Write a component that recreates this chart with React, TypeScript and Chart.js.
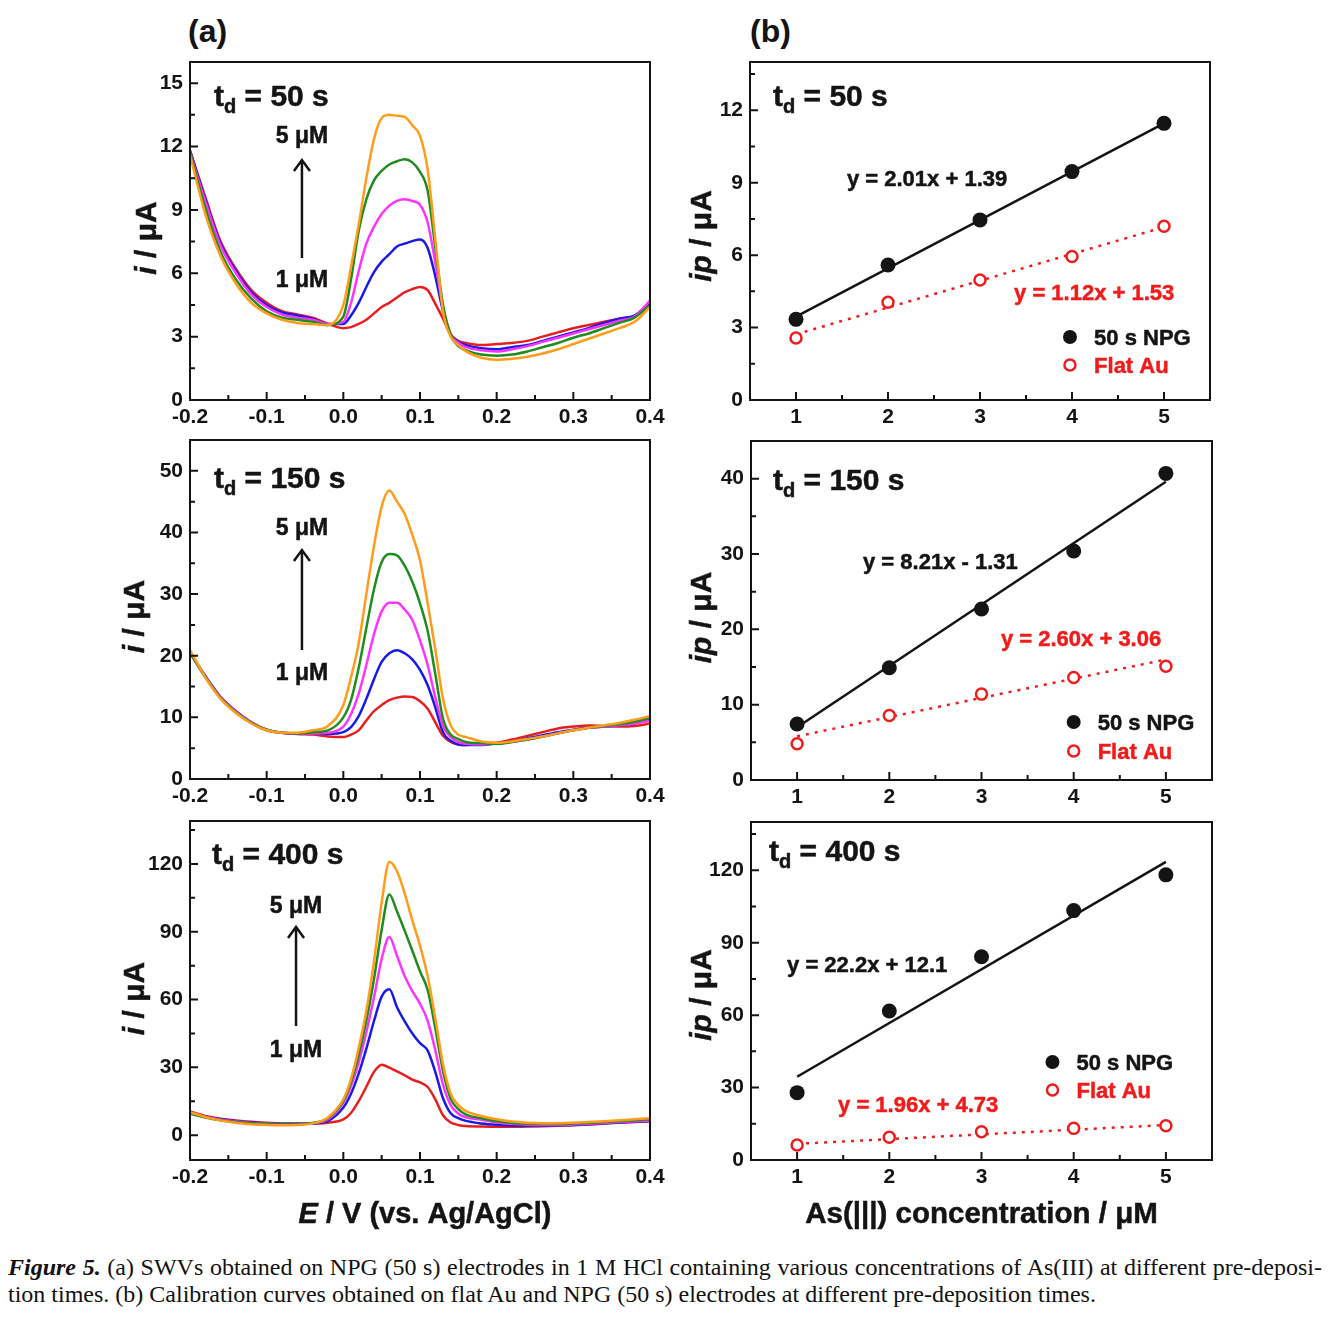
import React, { useEffect, useRef } from "react";
import { Chart, registerables } from "chart.js";

Chart.register(...registerables);

const FONT = '"Liberation Sans", Arial, Helvetica, sans-serif';
const INK = "#141414";
const RED = "#f01c1c";

// ---------------- (a) square-wave voltammograms ----------------
const POTENTIAL_V = [
  -0.2, -0.18, -0.16, -0.14, -0.12, -0.1, -0.08, -0.06, -0.04, -0.02,
  0, 0.01, 0.02, 0.03, 0.04, 0.05, 0.06, 0.07, 0.08, 0.09, 0.1, 0.11, 0.12, 0.13, 0.14, 0.15, 0.16,
  0.18, 0.2, 0.22, 0.24, 0.26, 0.28, 0.3, 0.32, 0.34, 0.36, 0.38, 0.4,
];
const CONC_LABELS = ["1 μM", "2 μM", "3 μM", "4 μM", "5 μM"];
const CURVE_COLORS = ["#e81e1e", "#1a1ae6", "#ff33ff", "#1e8c1e", "#ff9c1c"];

// t_d = 50 s
const I50_1UM = [11.8, 9.6, 7.5, 6.2, 5.2, 4.6, 4.2, 4.05, 3.9, 3.6,
  3.4, 3.45, 3.6, 3.8, 4.1, 4.4, 4.6, 4.85, 5.1, 5.25, 5.35, 5.2, 4.55, 3.85, 3.1, 2.8, 2.7,
  2.6, 2.65, 2.7, 2.8, 3.0, 3.2, 3.4, 3.55, 3.7, 3.85, 4.0, 4.6];
const I50_2UM = [11.8, 9.5, 7.4, 6.1, 5.1, 4.5, 4.15, 4.0, 3.85, 3.6,
  3.6, 4.0, 4.6, 5.35, 6.05, 6.55, 6.9, 7.27, 7.4, 7.52, 7.6, 7.2, 5.85, 4.2, 3.1, 2.75, 2.6,
  2.45, 2.4, 2.5, 2.6, 2.8, 3.0, 3.2, 3.4, 3.65, 3.85, 4.0, 4.6];
const I50_3UM = [11.7, 9.4, 7.3, 6.0, 5.0, 4.4, 4.05, 3.9, 3.8, 3.6,
  3.7, 4.6, 6.1, 7.4, 8.2, 8.8, 9.2, 9.43, 9.5, 9.42, 9.24, 8.4, 6.5, 4.4, 3.1, 2.7, 2.5,
  2.35, 2.3, 2.4, 2.55, 2.75, 2.95, 3.15, 3.35, 3.55, 3.75, 3.95, 4.7];
const I50_4UM = [11.7, 9.1, 7.0, 5.7, 4.8, 4.2, 3.9, 3.8, 3.7, 3.55,
  3.95, 5.7, 8.0, 9.5, 10.4, 10.85, 11.15, 11.3, 11.4, 11.25, 10.8, 9.9, 7.2, 4.5, 3.1, 2.55, 2.35,
  2.15, 2.1, 2.15, 2.3, 2.5, 2.7, 2.95, 3.15, 3.4, 3.65, 3.9, 4.5];
const I50_5UM = [11.6, 8.8, 6.8, 5.5, 4.6, 4.1, 3.8, 3.65, 3.6, 3.55,
  4.5, 6.3, 8.3, 10.5, 12.35, 13.35, 13.5, 13.45, 13.4, 13.0, 12.5, 10.9, 7.6, 4.2, 3.0, 2.6, 2.3,
  2.0, 1.9, 1.95, 2.05, 2.2, 2.4, 2.65, 2.9, 3.15, 3.4, 3.7, 4.4];

// t_d = 150 s
const I150_1UM = [20.5, 16.6, 13.2, 10.9, 9.1, 7.9, 7.5, 7.3, 7.2, 6.9,
  6.8, 7.2, 7.9, 9.5, 11.0, 12.0, 12.8, 13.2, 13.4, 13.3, 12.6, 11.4, 9.2, 7.0, 6.0, 5.6, 5.5,
  5.8, 5.9, 6.4, 7.0, 7.6, 8.2, 8.5, 8.7, 8.6, 8.5, 8.6, 9.0];
const I150_2UM = [20.5, 16.7, 13.3, 11.0, 9.2, 8.0, 7.5, 7.4, 7.4, 7.3,
  7.6, 8.4, 10.2, 13.0, 16.2, 19.0, 20.4, 20.9, 20.4, 19.4, 17.7, 15.2, 11.6, 7.6, 6.2, 5.6, 5.5,
  5.5, 5.8, 6.1, 6.6, 7.1, 7.6, 8.0, 8.3, 8.5, 8.7, 9.0, 9.6];
const I150_3UM = [20.5, 16.6, 13.2, 10.9, 9.2, 8.0, 7.5, 7.4, 7.4, 7.5,
  8.5, 10.5, 13.8, 18.5, 23.5, 27.2, 28.6, 28.6, 27.5, 25.8, 22.5, 18.5, 13.2, 8.6, 6.8, 6.0, 5.7,
  5.6, 5.8, 6.0, 6.4, 6.9, 7.4, 7.9, 8.3, 8.5, 8.7, 9.0, 9.5];
const I150_4UM = [20.5, 16.5, 13.1, 10.8, 9.1, 8.0, 7.5, 7.4, 7.6, 7.9,
  10.0, 12.8, 18.0, 24.5, 30.8, 35.2, 36.5, 36.3, 34.6, 32.0, 28.5, 24.0, 17.0, 9.8, 7.2, 6.5, 6.0,
  5.8, 5.7, 6.0, 6.4, 6.9, 7.4, 7.9, 8.3, 8.6, 8.9, 9.3, 9.9];
const I150_5UM = [20.9, 16.5, 13.0, 10.7, 9.0, 7.9, 7.5, 7.5, 7.9, 8.6,
  12.0, 16.5, 22.0, 30.0, 37.8, 44.2, 46.8, 45.0, 43.0, 39.6, 35.5, 28.5, 21.0, 13.0, 8.7, 7.2, 6.8,
  6.1, 5.9, 6.1, 6.5, 6.9, 7.4, 7.9, 8.3, 8.7, 9.1, 9.6, 10.2];

// t_d = 400 s
const I400_1UM = [10.5, 8.5, 7.3, 6.5, 5.9, 5.5, 5.2, 5.1, 5.1, 5.5,
  7.0, 9.8, 15.0, 21.4, 28.0, 31.2, 29.9, 28.2, 26.5, 24.6, 23.3, 21.3, 15.8, 8.8, 5.6, 4.5, 4.0,
  3.8, 3.7, 3.7, 3.8, 3.9, 4.1, 4.4, 4.7, 5.1, 5.5, 5.8, 6.2];
const I400_2UM = [10.0, 8.2, 7.0, 6.2, 5.6, 5.2, 5.0, 5.0, 5.2, 6.3,
  12.2, 18.3, 27.2, 38.3, 50.5, 61.3, 64.5, 56.6, 50.3, 45.0, 40.7, 37.4, 27.9, 16.3, 9.7, 7.5, 6.3,
  5.2, 4.6, 4.3, 4.2, 4.2, 4.3, 4.5, 4.8, 5.2, 5.6, 5.9, 6.3];
const I400_3UM = [9.8, 8.0, 6.8, 6.0, 5.4, 5.1, 4.9, 5.0, 5.3, 7.0,
  14.4, 21.7, 32.1, 45.5, 61.0, 78.0, 87.7, 79.4, 70.4, 63.7, 58.2, 50.6, 37.5, 22.4, 13.3, 9.5, 7.9,
  6.8, 5.6, 5.0, 4.6, 4.5, 4.5, 4.7, 5.0, 5.4, 5.8, 6.1, 6.5];
const I400_4UM = [9.5, 7.8, 6.6, 5.8, 5.3, 5.0, 4.8, 4.9, 5.4, 7.5,
  15.1, 23.5, 35.5, 50.6, 69.1, 90.9, 106.5, 99.0, 90.5, 81.6, 72.5, 64.2, 47.2, 28.4, 16.1, 11.5, 9.1,
  7.5, 6.2, 5.4, 5.0, 4.9, 4.9, 5.1, 5.4, 5.8, 6.2, 6.6, 7.0];
const I400_5UM = [10.2, 8.0, 6.5, 5.5, 4.8, 4.5, 4.4, 4.5, 5.2, 7.8,
  15.8, 24.8, 38.5, 55.0, 76.9, 102.9, 121.0, 116.8, 107.0, 95.0, 83.8, 70.3, 51.6, 31.4, 18.3, 13.3, 10.6,
  8.5, 7.0, 6.0, 5.5, 5.3, 5.3, 5.5, 5.8, 6.2, 6.6, 7.0, 7.5];

const E_TICKS = [-0.2, -0.1, 0, 0.1, 0.2, 0.3, 0.4];
const E_MINOR = [-0.15, -0.05, 0.05, 0.15, 0.25, 0.35];
const A50_Y_TICKS = [0, 3, 6, 9, 12, 15];
const A50_Y_MINOR = [1.5, 4.5, 7.5, 10.5, 13.5];
const A150_Y_TICKS = [0, 10, 20, 30, 40, 50];
const A150_Y_MINOR = [5, 15, 25, 35, 45];
const A400_Y_TICKS = [0, 30, 60, 90, 120];
const A400_Y_MINOR = [15, 45, 75, 105, 135];

// ---------------- (b) calibration curves ----------------
const CONC_UM = [1, 2, 3, 4, 5];
const NPG_50S = [3.34, 5.59, 7.46, 9.46, 11.46];
const FLAT_50S = [2.57, 4.05, 4.97, 5.94, 7.2];
const NPG_150S = [7.43, 14.9, 22.7, 30.4, 40.7];
const FLAT_150S = [4.8, 8.55, 11.4, 13.6, 15.1];
const NPG_400S = [27.9, 61.7, 84.2, 103.3, 118.1];
const FLAT_400S = [6.2, 9.4, 11.7, 13.1, 14.2];
const FIT_X = [1, 5];
const FIT_NPG_50S = [3.45, 11.46];
const FIT_FLAT_50S = [2.72, 7.16];
const FIT_NPG_150S = [7.0, 39.6];
const FIT_FLAT_150S = [5.8, 16.0];
const FIT_NPG_400S = [34.5, 123.5];
const FIT_FLAT_400S = [6.7, 14.5];
const LEGEND_LABELS = ["50 s NPG", "Flat Au"];
const C_TICKS = [1, 2, 3, 4, 5];
const C_MINOR = [1.5, 2.5, 3.5, 4.5];
const B50_Y_TICKS = [0, 3, 6, 9, 12];
const B50_Y_MINOR = [1.5, 4.5, 7.5, 10.5, 13.5];
const B150_Y_TICKS = [0, 10, 20, 30, 40];
const B150_Y_MINOR = [5, 15, 25, 35];
const B400_Y_TICKS = [0, 30, 60, 90, 120];
const B400_Y_MINOR = [15, 45, 75, 105, 135];

// ---------------- rich text helper ----------------
type Part = { t: string; size: number; italic?: boolean; dy?: number };
const fontOf = (p: Part) => `${p.italic ? "italic " : ""}bold ${p.size}px ${FONT}`;

function drawRich(ctx: CanvasRenderingContext2D, parts: Part[], x: number, yc: number, align: string, color: string) {
  const widths = parts.map((p) => {
    ctx.font = fontOf(p);
    return ctx.measureText(p.t).width;
  });
  const total = widths.reduce((s, w) => s + w, 0);
  let cx = align === "center" ? x - total / 2 : x;
  const baseline = yc + parts[0].size * 0.36;
  ctx.fillStyle = color;
  ctx.strokeStyle = color;
  ctx.lineWidth = 0.5;
  ctx.textAlign = "left";
  ctx.textBaseline = "alphabetic";
  parts.forEach((p, i) => {
    ctx.font = fontOf(p);
    ctx.fillText(p.t, cx, baseline + (p.dy || 0));
    ctx.strokeText(p.t, cx, baseline + (p.dy || 0));
    cx += widths[i];
  });
}

const tdParts = (n: string): Part[] => [
  { t: "t", size: 30 },
  { t: "d", size: 20, dy: 7 },
  { t: ` = ${n} s`, size: 30 },
];
const I_TITLE: Part[] = [{ t: "i", size: 30, italic: true }, { t: " / μA", size: 30 }];
const IP_TITLE: Part[] = [{ t: "ip", size: 30, italic: true }, { t: " / μA", size: 30 }];

// ---------------- panel layout ----------------
const PANELS: any[] = [
  {
    key: "a50", kind: "swv", left: 100, top: 45, w: 580, h: 385, yAxisW: 90, padTop: 17, padRight: 30, xAxisH: 30,
    xMin: -0.2, xMax: 0.4, yMin: 0, yMax: 16, xTicks: E_TICKS, xMinor: E_MINOR, yTicks: A50_Y_TICKS, yMinor: A50_Y_MINOR,
    series: [I50_1UM, I50_2UM, I50_3UM, I50_4UM, I50_5UM], td: "50", tdPos: [-0.1687, 14.44],
    arrowX: -0.054, hiY: 12.54, loY: 5.73, arrowFrom: 6.72, arrowTo: 11.36,
    yTitle: I_TITLE, yTitleDx: -45, yTitleDy: 7,
  },
  {
    key: "b50", kind: "cal", left: 680, top: 45, w: 560, h: 385, yAxisW: 70, padTop: 17, padRight: 30, xAxisH: 30,
    xMin: 0.5, xMax: 5.5, yMin: 0, yMax: 14, xTicks: C_TICKS, xMinor: C_MINOR, yTicks: B50_Y_TICKS, yMinor: B50_Y_MINOR,
    npg: NPG_50S, flat: FLAT_50S, fitNpg: FIT_NPG_50S, fitFlat: FIT_FLAT_50S, td: "50", tdPos: [0.75, 12.63],
    eqBlack: "y = 2.01x + 1.39", eqBlackPos: [1.554, 9.2], eqRed: "y = 1.12x + 1.53", eqRedPos: [3.37, 4.47],
    legX: 3.978, legY1: 2.61, legY2: 1.45, legTextX: 4.24,
    yTitle: IP_TITLE, yTitleDx: -50, yTitleDy: 5,
  },
  {
    key: "a150", kind: "swv", left: 100, top: 430, w: 580, h: 380, yAxisW: 90, padTop: 10, padRight: 30, xAxisH: 31,
    xMin: -0.2, xMax: 0.4, yMin: 0, yMax: 55, xTicks: E_TICKS, xMinor: E_MINOR, yTicks: A150_Y_TICKS, yMinor: A150_Y_MINOR,
    series: [I150_1UM, I150_2UM, I150_3UM, I150_4UM, I150_5UM], td: "150", tdPos: [-0.1687, 49.0],
    arrowX: -0.054, hiY: 40.9, loY: 17.36, arrowFrom: 20.93, arrowTo: 37.15,
    yTitle: I_TITLE, yTitleDx: -57, yTitleDy: 7,
  },
  {
    key: "b150", kind: "cal", left: 680, top: 430, w: 560, h: 380, yAxisW: 71, padTop: 11, padRight: 28, xAxisH: 30,
    xMin: 0.5, xMax: 5.5, yMin: 0, yMax: 45, xTicks: C_TICKS, xMinor: C_MINOR, yTicks: B150_Y_TICKS, yMinor: B150_Y_MINOR,
    npg: NPG_150S, flat: FLAT_150S, fitNpg: FIT_NPG_150S, fitFlat: FIT_FLAT_150S, td: "150", tdPos: [0.739, 39.96],
    eqBlack: "y = 8.21x - 1.31", eqBlackPos: [1.715, 29.07], eqRed: "y = 2.60x + 3.06", eqRedPos: [3.211, 18.85],
    legX: 4.0, legY1: 7.7, legY2: 3.85, legTextX: 4.26,
    yTitle: IP_TITLE, yTitleDx: -51, yTitleDy: 7,
  },
  {
    key: "a400", kind: "swv", left: 100, top: 810, w: 580, h: 430, yAxisW: 90, padTop: 11, padRight: 30, xAxisH: 80,
    xMin: -0.2, xMax: 0.4, yMin: -11, yMax: 139, xTicks: E_TICKS, xMinor: E_MINOR, yTicks: A400_Y_TICKS, yMinor: A400_Y_MINOR,
    series: [I400_1UM, I400_2UM, I400_3UM, I400_4UM, I400_5UM], td: "400", tdPos: [-0.1713, 124.8],
    arrowX: -0.0617, hiY: 101.8, loY: 38.1, arrowFrom: 48.3, arrowTo: 92.1,
    yTitle: I_TITLE, yTitleDx: -57, yTitleDy: 8,
    xTitle: [{ t: "E", size: 29, italic: true }, { t: " / V (vs. Ag/AgCl)", size: 29 }], xTitleDx: 5, xTitleDy: 53,
  },
  {
    key: "b400", kind: "cal", left: 680, top: 810, w: 560, h: 430, yAxisW: 71, padTop: 12, padRight: 28, xAxisH: 80,
    xMin: 0.5, xMax: 5.5, yMin: 0, yMax: 140, xTicks: C_TICKS, xMinor: C_MINOR, yTicks: B400_Y_TICKS, yMinor: B400_Y_MINOR,
    npg: NPG_400S, flat: FLAT_400S, fitNpg: FIT_NPG_400S, fitFlat: FIT_FLAT_400S, td: "400", tdPos: [0.696, 128.4],
    eqBlack: "y = 22.2x + 12.1", eqBlackPos: [0.891, 81.2], eqRed: "y = 1.96x + 4.73", eqRedPos: [1.444, 23.2],
    legX: 3.77, legY1: 40.6, legY2: 29.0, legTextX: 4.03,
    yTitle: IP_TITLE, yTitleDx: -51, yTitleDy: 4,
    xTitle: [{ t: "As(|||) concentration / μM", size: 29.5 }], xTitleDx: 0, xTitleDy: 52,
  },
];

function makePaperPlugin(p: any) {
  return {
    id: "paper_" + p.key,
    afterDraw(chart: any) {
      const { ctx, chartArea: a } = chart;
      const X = (v: number) => chart.scales.x.getPixelForValue(v);
      const Y = (v: number) => chart.scales.y.getPixelForValue(v);
      ctx.save();
      ctx.strokeStyle = INK;
      ctx.lineWidth = 2;
      ctx.beginPath();
      const seg = (x1: number, y1: number, x2: number, y2: number) => {
        ctx.moveTo(x1, y1);
        ctx.lineTo(x2, y2);
      };
      p.xTicks.forEach((v: number) => seg(X(v), a.bottom, X(v), a.bottom - 8));
      p.xMinor.forEach((v: number) => seg(X(v), a.bottom, X(v), a.bottom - 5));
      p.yTicks.forEach((v: number) => seg(a.left, Y(v), a.left + 8, Y(v)));
      p.yMinor.forEach((v: number) => seg(a.left, Y(v), a.left + 5, Y(v)));
      ctx.stroke();
      ctx.strokeRect(a.left, a.top, a.right - a.left, a.bottom - a.top);

      drawRich(ctx, tdParts(p.td), X(p.tdPos[0]), Y(p.tdPos[1]), "left", INK);

      if (p.kind === "swv") {
        drawRich(ctx, [{ t: CONC_LABELS[4], size: 23 }], X(p.arrowX), Y(p.hiY), "center", INK);
        drawRich(ctx, [{ t: CONC_LABELS[0], size: 23 }], X(p.arrowX), Y(p.loY), "center", INK);
        const ax = X(p.arrowX);
        const y1 = Y(p.arrowFrom);
        const y2 = Y(p.arrowTo);
        ctx.strokeStyle = INK;
        ctx.lineWidth = 2.5;
        ctx.beginPath();
        ctx.moveTo(ax, y1);
        ctx.lineTo(ax, y2);
        ctx.moveTo(ax - 8, y2 + 11);
        ctx.lineTo(ax, y2);
        ctx.lineTo(ax + 8, y2 + 11);
        ctx.stroke();
      } else {
        drawRich(ctx, [{ t: p.eqBlack, size: 22 }], X(p.eqBlackPos[0]), Y(p.eqBlackPos[1]), "left", INK);
        drawRich(ctx, [{ t: p.eqRed, size: 22 }], X(p.eqRedPos[0]), Y(p.eqRedPos[1]), "left", RED);
        const lx = X(p.legX);
        ctx.fillStyle = INK;
        ctx.beginPath();
        ctx.arc(lx, Y(p.legY1), 7, 0, Math.PI * 2);
        ctx.fill();
        ctx.strokeStyle = RED;
        ctx.lineWidth = 2.5;
        ctx.fillStyle = "#fff";
        ctx.beginPath();
        ctx.arc(lx, Y(p.legY2), 5.5, 0, Math.PI * 2);
        ctx.fill();
        ctx.stroke();
        drawRich(ctx, [{ t: LEGEND_LABELS[0], size: 22 }], X(p.legTextX), Y(p.legY1), "left", INK);
        drawRich(ctx, [{ t: LEGEND_LABELS[1], size: 22 }], X(p.legTextX), Y(p.legY2), "left", RED);
      }

      if (p.xTitle) {
        drawRich(ctx, p.xTitle, (a.left + a.right) / 2 + p.xTitleDx, a.bottom + p.xTitleDy, "center", INK);
      }
      ctx.translate(a.left + p.yTitleDx, (a.top + a.bottom) / 2 + p.yTitleDy);
      ctx.rotate(-Math.PI / 2);
      drawRich(ctx, p.yTitle, 0, 0, "center", INK);
      ctx.restore();
    },
  };
}

function buildConfig(p: any) {
  const tickFont = { family: FONT, size: 21, weight: "bold" as const };
  let datasets: any[];
  if (p.kind === "swv") {
    datasets = p.series.map((vals: number[], i: number) => ({
      label: CONC_LABELS[i],
      data: POTENTIAL_V.map((e, j) => ({ x: e, y: vals[j] })),
      borderColor: CURVE_COLORS[i],
      borderWidth: 2.5,
      pointRadius: 0,
      fill: false,
      cubicInterpolationMode: "monotone",
      order: 4 - i,
    }));
  } else {
    datasets = [
      {
        label: LEGEND_LABELS[0],
        data: CONC_UM.map((c, j) => ({ x: c, y: p.npg[j] })),
        backgroundColor: INK, borderColor: INK, pointRadius: 7.5, borderWidth: 0, showLine: false, order: 0,
      },
      {
        label: LEGEND_LABELS[1],
        data: CONC_UM.map((c, j) => ({ x: c, y: p.flat[j] })),
        backgroundColor: "#ffffff", borderColor: RED, pointRadius: 5.5, borderWidth: 2.5, showLine: false, order: 0,
      },
      {
        label: "fit NPG",
        data: FIT_X.map((c, j) => ({ x: c, y: p.fitNpg[j] })),
        borderColor: INK, borderWidth: 2.5, pointRadius: 0, showLine: true, order: 1,
      },
      {
        label: "fit Au",
        data: FIT_X.map((c, j) => ({ x: c, y: p.fitFlat[j] })),
        borderColor: RED, borderWidth: 2.5, borderDash: [3, 6], pointRadius: 0, showLine: true, order: 1,
      },
    ];
  }
  return {
    type: p.kind === "swv" ? "line" : "scatter",
    data: { datasets },
    options: {
      responsive: false,
      animation: false,
      devicePixelRatio: 1,
      events: [],
      layout: { padding: { left: 0, top: p.padTop, right: p.padRight, bottom: 0 } },
      plugins: { legend: { display: false }, tooltip: { enabled: false }, title: { display: false } },
      scales: {
        x: {
          type: "linear",
          min: p.xMin,
          max: p.xMax,
          grid: { display: false, drawTicks: false },
          border: { display: false },
          ticks: {
            font: tickFont, color: INK, padding: 5, autoSkip: false, maxRotation: 0,
            callback: (v: any) => (p.kind === "swv" ? Number(v).toFixed(1) : String(v)),
          },
          afterBuildTicks: (s: any) => { s.ticks = p.xTicks.map((v: number) => ({ value: v })); },
          afterFit: (s: any) => { s.height = p.xAxisH; s.paddingLeft = 0; s.paddingRight = 0; },
        },
        y: {
          type: "linear",
          min: p.yMin,
          max: p.yMax,
          grid: { display: false, drawTicks: false },
          border: { display: false },
          ticks: { font: tickFont, color: INK, padding: 7, autoSkip: false, callback: (v: any) => String(v) },
          afterBuildTicks: (s: any) => { s.ticks = p.yTicks.map((v: number) => ({ value: v })); },
          afterFit: (s: any) => { s.width = p.yAxisW; s.paddingTop = 0; s.paddingBottom = 0; },
        },
      },
    },
    plugins: [makePaperPlugin(p)],
  };
}

function Panel({ p }: { p: any }) {
  const ref = useRef<HTMLCanvasElement>(null);
  useEffect(() => {
    const chart = new Chart(ref.current as HTMLCanvasElement, buildConfig(p) as any);
    return () => chart.destroy();
  }, [p]);
  return (
    <canvas
      ref={ref}
      width={p.w}
      height={p.h}
      style={{ position: "absolute", left: p.left, top: p.top, width: p.w, height: p.h }}
    />
  );
}

export default function App() {
  const panelLabel = { position: "absolute" as const, top: 15, font: `bold 32px ${FONT}`, lineHeight: "32px", color: INK };
  const caption = { fontFamily: '"Liberation Serif", "Times New Roman", serif', fontSize: 24, lineHeight: "27px", color: "#111", whiteSpace: "nowrap" as const };
  return (
    <div style={{ position: "absolute", left: 0, top: 0, width: 1344, height: 1323, background: "#fff", overflow: "hidden" }}>
      <div style={{ ...panelLabel, left: 188 }}>(a)</div>
      <div style={{ ...panelLabel, left: 750 }}>(b)</div>
      {PANELS.map((p) => (
        <Panel key={p.key} p={p} />
      ))}
      <div style={{ position: "absolute", left: 8, top: 1254, width: 1314 }}>
        <div style={{ ...caption, textAlign: "justify", textAlignLast: "justify" as any }}>
          <b><i>Figure 5.</i></b> (a) SWVs obtained on NPG (50 s) electrodes in 1 M HCl containing various concentrations of As(III) at different pre-deposi-
        </div>
        <div style={caption}>
          tion times. (b) Calibration curves obtained on flat Au and NPG (50 s) electrodes at different pre-deposition times.
        </div>
      </div>
    </div>
  );
}
